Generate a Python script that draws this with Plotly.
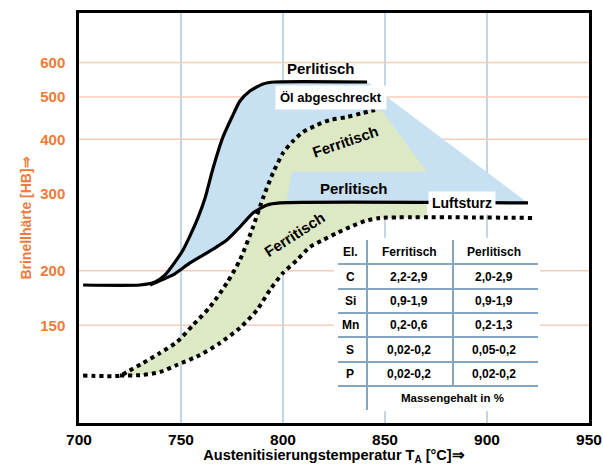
import plotly.graph_objects as go

# ---------------- data ----------------
x_ticks = [700, 750, 800, 850, 900, 950]
y_ticks = [150, 200, 300, 400, 500, 600]
grid_hb = [150, 200, 400, 500, 600]

# oil-quenched, pearlitic (upper solid curve)
oel_perl_T = [702, 729.9, 737.3, 742.2, 747.1, 751, 754.4, 758.3, 761.8, 765.2, 768.1,
              770.6, 775, 778.9, 783.8, 790.2, 796.1, 841.2]
oel_perl_HB = [185.5, 185.5, 188.5, 195.6, 209.5, 223.1, 240.3, 264.2, 293.6, 336.8, 374.3,
               405.1, 450, 489.6, 516.3, 535.9, 541.4, 541.4]

# air-cooled, pearlitic (lower solid curve)
luft_perl_T = [734.8, 738.2, 746.1, 754.4, 762.7, 772.5, 778.9, 785.3, 792.2, 798.5, 920.1]
luft_perl_HB = [185.5, 188.5, 195.6, 208.4, 219.7, 235.2, 251.9, 271.2, 282.9, 286, 286]

# oil-quenched, ferritic (upper dotted curve)
oel_ferr_T = [702, 720.1, 723.5, 731.4, 739.7, 748, 755.9, 764.2, 772.5, 778.9, 785.3,
              790.2, 795.1, 800, 804.9, 809.8, 816.7, 823, 831.4, 839.2, 845.1]
oel_ferr_HB = [115, 115, 117.2, 122.9, 129.6, 137.3, 150.2, 165.2, 187.5, 211.7, 251.9,
               293.6, 335, 372.2, 396.5, 415.8, 431.5, 443, 450, 459.9, 467]

# air-cooled, ferritic (lower dotted curve)
luft_ferr_T = [720.1, 731.4, 739.7, 748, 759.3, 769.1, 778.9, 787.3, 793.6, 800, 806.9,
               813.2, 819.6, 826.5, 832.8, 840.2, 847.5, 922.1]
luft_ferr_HB = [115, 115.4, 117.2, 121.6, 128.2, 136.6, 147.9, 162.6, 180.7, 197.7, 211.7,
                226.7, 235.2, 244.1, 251.9, 260, 264.2, 264.2]

# extra vertices of the shaded (green) areas
cross_T, cross_HB = 788.2, 276.2
green_top_ext_T = [849, 870.6, 804.4, 801.5]
green_top_ext_HB = [462, 336.8, 336.8, 286]
green_bottom_edge_T = 870.6
green_bottom_edge_HB = [286, 264.2]

# composition table
table_head = ["El.", "Ferritisch", "Perlitisch"]
elements = ["C", "Si", "Mn", "S", "P"]
ferr_vals = ["2,2-2,9", "0,9-1,9", "0,2-0,6", "0,02-0,2", "0,02-0,2"]
perl_vals = ["2,0-2,9", "0,9-1,9", "0,2-1,3", "0,05-0,2", "0,02-0,2"]
table_note = "Massengehalt in %"

# ---------------- styles ----------------
W, H = 603, 465
L, R, T, B = 79, 589, 13, 423
ORANGE = "#EE7B3A"
GRID_H = "#F8CDB8"
GRID_V = "#C3D6E4"
BLUE = "#C7E0F2"
GREEN = "#DDE9C4"
TLINE = "#86A6C0"
FONT = "Liberation Sans, Arial, sans-serif"


def pp(px, py):
    return (px - L) / (R - L), (B - py) / (B - T)


fig = go.Figure()

# horizontal grid lines (orange)
for v in grid_hb:
    fig.add_trace(go.Scatter(x=[x_ticks[0], x_ticks[-1]], y=[v, v], mode="lines",
                             line=dict(color=GRID_H, width=1.5), hoverinfo="skip",
                             showlegend=False))

# green area below (air-cooled ferritic band)
gb_x = [t for t in oel_ferr_T if t < cross_T] + [cross_T]
gb_y = [h for t, h in zip(oel_ferr_T, oel_ferr_HB) if t < cross_T] + [cross_HB]
gb_x += [t for t in luft_perl_T if cross_T < t < green_bottom_edge_T]
gb_y += [h for t, h in zip(luft_perl_T, luft_perl_HB) if cross_T < t < green_bottom_edge_T]
gb_x += [green_bottom_edge_T, green_bottom_edge_T]
gb_y += green_bottom_edge_HB
lf = [(t, h) for t, h in zip(luft_ferr_T, luft_ferr_HB) if t < green_bottom_edge_T][::-1]
gb_x += [p[0] for p in lf]
gb_y += [p[1] for p in lf]
fig.add_trace(go.Scatter(x=gb_x, y=gb_y, fill="toself", fillcolor=GREEN, mode="lines",
                         line=dict(width=0), hoverinfo="skip", showlegend=False))

# blue area between the pearlitic curves
fig.add_trace(go.Scatter(x=oel_perl_T + luft_perl_T[::-1], y=oel_perl_HB + luft_perl_HB[::-1],
                         fill="toself", fillcolor=BLUE, mode="lines", line=dict(width=0),
                         hoverinfo="skip", showlegend=False))

# green area above (oil-quenched ferritic)
gt_x = [cross_T] + [t for t in oel_ferr_T if t > cross_T] + green_top_ext_T
gt_y = [cross_HB] + [h for t, h in zip(oel_ferr_T, oel_ferr_HB) if t > cross_T] + green_top_ext_HB
lp = [(t, h) for t, h in zip(luft_perl_T, luft_perl_HB) if cross_T < t < green_top_ext_T[-1]][::-1]
gt_x += [p[0] for p in lp]
gt_y += [p[1] for p in lp]
fig.add_trace(go.Scatter(x=gt_x, y=gt_y, fill="toself", fillcolor=GREEN, mode="lines",
                         line=dict(width=0), hoverinfo="skip", showlegend=False))

# curves
for xs, ys in [(oel_perl_T, oel_perl_HB), (luft_perl_T, luft_perl_HB)]:
    fig.add_trace(go.Scatter(x=xs, y=ys, mode="lines", line=dict(color="black", width=3.2,
                             shape="spline", smoothing=0.6), showlegend=False))
for xs, ys in [(oel_ferr_T, oel_ferr_HB), (luft_ferr_T, luft_ferr_HB)]:
    fig.add_trace(go.Scatter(x=xs, y=ys, mode="lines", line=dict(color="black", width=4,
                             dash="4px,4px", shape="spline", smoothing=0.6),
                             showlegend=False))

annotations = []


def label(px, py, text, size, angle=0, bg=None, pad=1):
    x, y = pp(px, py)
    annotations.append(dict(x=x, y=y, xref="paper", yref="paper", text=text,
                            showarrow=False, textangle=angle,
                            font=dict(family=FONT, size=size, color="black", weight="bold"),
                            bgcolor=bg, borderpad=pad, xanchor="center", yanchor="middle"))


label(321, 68, "Perlitisch", 15)
label(331, 98, "Öl abgeschreckt", 13, bg="white", pad=4)
label(345, 141, "Ferritisch", 15, angle=-19)
label(354, 188, "Perlitisch", 15)
label(462, 203, "Luftsturz", 14, bg="white", pad=3)
label(294, 234, "Ferritisch", 15, angle=-33)

# table
shapes = []
x0, y0 = pp(334, 411)
x1, y1 = pp(540, 238)
shapes.append(dict(type="rect", xref="paper", yref="paper", x0=x0, y0=y0, x1=x1, y1=y1,
                   fillcolor="white", line=dict(width=0), layer="above"))
for py in [264, 289, 313, 337, 362, 386]:
    a, yy = pp(338, py)
    b, _ = pp(538, py)
    shapes.append(dict(type="line", xref="paper", yref="paper", x0=a, x1=b, y0=yy, y1=yy,
                       line=dict(color=TLINE, width=2), layer="above"))
for px, ya, yb in [(367, 240, 410), (453, 240, 386)]:
    xx, ta = pp(px, ya)
    _, tb = pp(px, yb)
    shapes.append(dict(type="line", xref="paper", yref="paper", x0=xx, x1=xx, y0=ta, y1=tb,
                       line=dict(color=TLINE, width=2), layer="above"))

col_x = [350, 409, 494]
for cx, t in zip(col_x, table_head):
    label(cx, 252, t, 12)
row_y = [276.5, 301, 325, 349.5, 374]
for ry, e, f, p in zip(row_y, elements, ferr_vals, perl_vals):
    label(col_x[0], ry, e, 12)
    label(col_x[1], ry, f, 12)
    label(col_x[2], ry, p, 12)
label(452, 398, table_note, 11.5)

fig.update_layout(
    width=W, height=H,
    margin=dict(l=L, r=W - R, t=T, b=H - B, autoexpand=False),
    paper_bgcolor="white", plot_bgcolor="white",
    showlegend=False,
    annotations=annotations, shapes=shapes,
    xaxis=dict(range=[700, 950], tickvals=x_ticks, ticktext=[str(v) for v in x_ticks],
               showgrid=True, gridcolor=GRID_V, gridwidth=1.5, zeroline=False,
               showline=True, linecolor="black", linewidth=2.5, mirror=True,
               ticks="", ticklabelstandoff=1,
               tickfont=dict(family=FONT, size=15.5, color="black", weight="bold"),
               title=dict(text="Austenitisierungstemperatur T<sub>A</sub> [°C]⇒", standoff=1,
                          font=dict(family=FONT, size=14.5, color="black", weight="bold")),
               automargin=False),
    yaxis=dict(type="log", range=[1.9521, 2.8916], tickvals=y_ticks,
               ticktext=[str(v) for v in y_ticks], showgrid=False, zeroline=False,
               showline=True, linecolor="black", linewidth=2.5, mirror=True,
               ticks="", ticklabelstandoff=8,
               tickfont=dict(family=FONT, size=15, color=ORANGE, weight="bold"),
               title=dict(text="Brinellhärte [HB]⇒", standoff=6,
                          font=dict(family=FONT, size=14, color=ORANGE, weight="bold")),
               automargin=False),
)

fig.write_html("out.html", config={"displayModeBar": False},
               post_script="document.body.style.margin='0px';"
               "document.body.style.overflow='hidden';")
